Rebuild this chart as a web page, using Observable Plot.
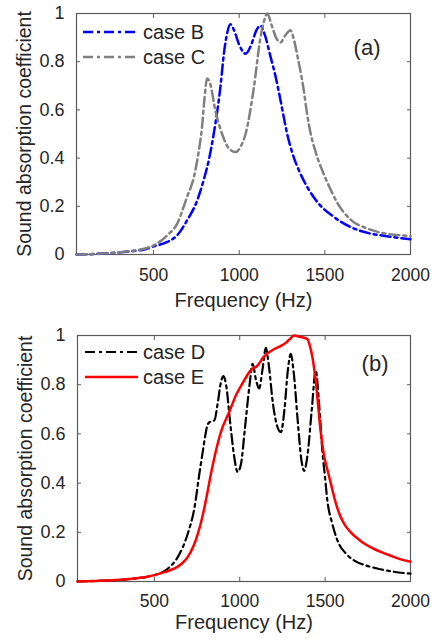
<!DOCTYPE html>
<html><head><meta charset="utf-8">
<script src="https://cdn.jsdelivr.net/npm/d3@7"></script>
<script src="https://cdn.jsdelivr.net/npm/@observablehq/plot@0.6"></script>
<style>
body{margin:0;background:#fff;font-family:"Liberation Sans",Arial,sans-serif;}
.panel{position:relative;width:433px;height:320px;}
.panel svg{display:block}
.leg{position:absolute;left:0;top:0;}
</style></head><body><div id="chart"></div>
<script>
// ---- data ----
const xTicks = [500, 1000, 1500, 2000];
const yTicks = [0, 0.2, 0.4, 0.6, 0.8, 1];

const freqB = [50,150,250,350,450,501,580,638,696,755,793,822,851,891,910,930,949,970,1000,1037,1070,1100,1124,1150,1183,1215,1241,1260,1280,1300,1320,1348,1397,1465,1552,1650,1766,1870,2000];
const valB  = [0,0.002,0.006,0.012,0.022,0.034,0.052,0.08,0.142,0.225,0.31,0.39,0.50,0.70,0.83,0.92,0.955,0.93,0.87,0.833,0.87,0.93,0.95,0.91,0.82,0.73,0.64,0.57,0.50,0.445,0.40,0.35,0.28,0.21,0.156,0.114,0.087,0.075,0.063];

const freqC = [50,150,250,350,450,501,580,638,696,735,764,783,795,813,830,860,900,940,978,1010,1037,1085,1124,1150,1163,1190,1215,1241,1270,1299,1320,1338,1375,1397,1416,1440,1460,1484,1530,1572,1650,1747,1844,1920,2000];
const valC  = [0,0.002,0.006,0.013,0.025,0.038,0.08,0.128,0.24,0.32,0.43,0.53,0.63,0.73,0.71,0.6,0.5,0.44,0.425,0.45,0.5,0.69,0.9,0.98,1.0,0.95,0.9,0.88,0.91,0.93,0.89,0.83,0.69,0.58,0.505,0.44,0.395,0.35,0.275,0.215,0.145,0.108,0.088,0.081,0.076];

const freqD = [50,150,250,350,450,501,580,638,696,735,764,784,800,813,835,852,870,890,905,920,945,965,988,1008,1030,1056,1076,1095,1114,1133,1153,1170,1195,1220,1241,1262,1282,1299,1316,1340,1360,1377,1398,1422,1445,1465,1484,1500,1513,1540,1572,1620,1669,1740,1805,1900,2000];
const valD  = [0,0.002,0.005,0.01,0.018,0.026,0.053,0.1,0.195,0.30,0.44,0.53,0.6,0.64,0.652,0.655,0.72,0.81,0.835,0.8,0.64,0.52,0.445,0.48,0.62,0.79,0.885,0.82,0.785,0.86,0.95,0.88,0.72,0.63,0.607,0.7,0.86,0.925,0.85,0.65,0.5,0.45,0.52,0.7,0.857,0.72,0.53,0.42,0.33,0.24,0.167,0.115,0.086,0.065,0.053,0.04,0.032];

const freqE = [50,150,250,350,450,501,560,618,660,696,730,755,775,793,813,832,852,891,939,980,1020,1066,1100,1143,1202,1241,1270,1300,1318,1350,1380,1397,1410,1426,1445,1474,1494,1513,1533,1560,1591,1620,1650,1708,1780,1864,1930,2000];
const valE  = [0,0.002,0.005,0.01,0.018,0.026,0.038,0.053,0.072,0.1,0.145,0.195,0.245,0.30,0.37,0.44,0.505,0.61,0.69,0.76,0.81,0.86,0.875,0.915,0.945,0.958,0.97,0.99,1.0,0.995,0.99,0.985,0.96,0.91,0.816,0.61,0.51,0.455,0.40,0.325,0.262,0.225,0.2,0.165,0.135,0.11,0.093,0.08];

const seriesA = [
  {name: "case B", f: freqB, v: valB, color: "#0000ff", w: 2.5, dash: "10,4,3,4"},
  {name: "case C", f: freqC, v: valC, color: "#808080", w: 2.5, dash: "10,4,3,4"}
];
const seriesB = [
  {name: "case D", f: freqD, v: valD, color: "#000000", w: 2.2, dash: "10,4,3,4"},
  {name: "case E", f: freqE, v: valE, color: "#ff0000", w: 2.5, dash: null}
];

const FONT = "'Liberation Sans', Arial, sans-serif";
const AX = "#5a5a5a";
const TXT = "#262626";

function panel(series, tag, o) {
  const data = series.flatMap(s => s.f.map((f, i) => ({f, v: s.v[i], name: s.name})));
  const svg = Plot.plot({
    width: 433, height: 320,
    marginTop: o.mt, marginBottom: o.mb, marginLeft: o.ml, marginRight: 23,
    style: {fontFamily: FONT, color: TXT, background: "white", overflow: "visible"},
    x: {domain: [50, 2000]},
    y: {domain: [0, 1]},
    marks: [
      Plot.axisX(xTicks, {anchor: "bottom", tickSize: -4, fill: "none", stroke: AX, label: null}),
      Plot.axisX(xTicks, {anchor: "top", tickSize: -4, fill: "none", stroke: AX, label: null}),
      Plot.axisY(yTicks, {anchor: "left", tickSize: -4, fill: "none", stroke: AX, label: null}),
      Plot.axisY(yTicks, {anchor: "right", tickSize: -4, fill: "none", stroke: AX, label: null}),
      Plot.axisX(xTicks, {anchor: "bottom", tickSize: 0, tickPadding: o.tp, fontSize: 17.5, fill: TXT, label: null, tickFormat: d => String(d)}),
      Plot.axisY(yTicks, {anchor: "left", tickSize: 0, tickPadding: 12, fontSize: 18, fill: TXT, label: null, tickFormat: d => String(d)}),
      Plot.frame({stroke: AX, strokeWidth: 1.2}),
      ...series.map(s => Plot.line(data.filter(d => d.name === s.name), {
        x: "f", y: "v", stroke: s.color, strokeWidth: s.w,
        strokeDasharray: s.dash, curve: "monotone-x"
      })),
      Plot.text(["Frequency (Hz)"], {frameAnchor: "bottom", dy: o.xl, lineAnchor: "top", fontSize: 20, fill: TXT}),
      Plot.text(["Sound absorption coefficient"], {frameAnchor: "left", dx: -59, rotate: -90, lineAnchor: "top", textAnchor: "middle", fontSize: 19.5, fill: TXT}),
      Plot.text([tag], {frameAnchor: "top-right", dx: o.tx, dy: o.ty, lineAnchor: "middle", textAnchor: "end", fontSize: 22, fill: TXT})
    ]
  });
  const div = document.createElement("div");
  div.className = "panel";
  div.appendChild(svg);
  // legend overlay
  const ns = "http://www.w3.org/2000/svg";
  const leg = document.createElementNS(ns, "svg");
  leg.setAttribute("class", "leg");
  leg.setAttribute("width", 260);
  leg.setAttribute("height", 120);
  series.forEach((s, i) => {
    const y = o.ly + i * 25;
    const ln = document.createElementNS(ns, "line");
    ln.setAttribute("x1", o.lx1); ln.setAttribute("x2", 138);
    ln.setAttribute("y1", y); ln.setAttribute("y2", y);
    ln.setAttribute("stroke", s.color); ln.setAttribute("stroke-width", s.w);
    if (s.dash) ln.setAttribute("stroke-dasharray", s.dash);
    leg.appendChild(ln);
    const t = document.createElementNS(ns, "text");
    t.setAttribute("x", 143); t.setAttribute("y", y);
    t.setAttribute("dy", "0.36em");
    t.setAttribute("font-family", FONT); t.setAttribute("font-size", 20);
    t.setAttribute("fill", TXT);
    t.textContent = s.name;
    leg.appendChild(t);
  });
  div.appendChild(leg);
  return div;
}

const root = document.getElementById("chart");
root.appendChild(panel(seriesA, "(a)", {mt: 13, mb: 66, ml: 76, tp: 14, xl: 38, tx: -30, ty: 34, ly: 32, lx1: 83}));
root.appendChild(panel(seriesB, "(b)", {mt: 15, mb: 59, ml: 77, tp: 13, xl: 33, tx: -22, ty: 28, ly: 32, lx1: 85}));
</script>
</body></html>
